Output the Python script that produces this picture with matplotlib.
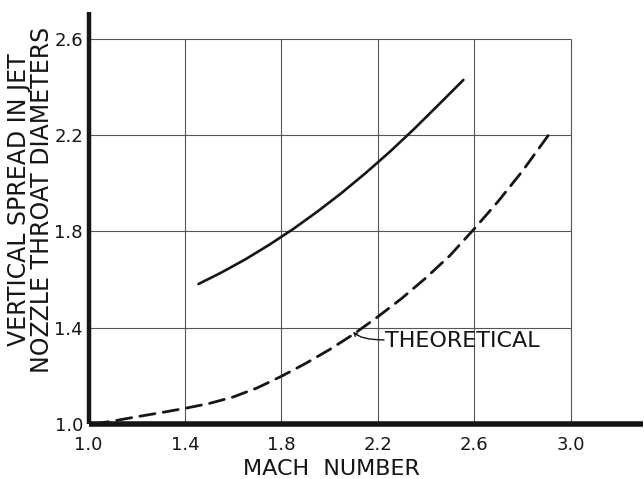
import matplotlib
matplotlib.use('Agg')
import matplotlib.pyplot as plt

mach_measured = [1.456, 1.55, 1.65, 1.75, 1.85, 1.95, 2.05, 2.15, 2.25, 2.35, 2.45, 2.555]
spread_measured = [1.581, 1.628, 1.683, 1.744, 1.810, 1.882, 1.959, 2.042, 2.130, 2.224, 2.323, 2.428]

# theoretical curve (dashed)
mach_theory = [1.02, 1.1, 1.2, 1.3, 1.4, 1.5, 1.6, 1.7, 1.8, 1.9, 2.0,
               2.1, 2.2, 2.3, 2.4, 2.5, 2.6, 2.7, 2.8, 2.908]
spread_theory = [1.0, 1.012, 1.03, 1.047, 1.065, 1.085, 1.112, 1.150, 1.198, 1.251, 1.309,
                 1.373, 1.445, 1.522, 1.607, 1.70, 1.81, 1.925, 2.05, 2.199]

x_ticks = [1.0, 1.4, 1.8, 2.2, 2.6, 3.0]
x_tick_labels = ['1.0', '1.4', '1.8', '2.2', '2.6', '3.0']
y_ticks = [1.0, 1.4, 1.8, 2.2, 2.6]
y_tick_labels = ['1.0', '1.4', '1.8', '2.2', '2.6']

ink = '#161616'
plt.rcParams['font.family'] = ['DejaVu Sans']

W, H = 644, 479
fig = plt.figure(figsize=(W / 100, H / 100), dpi=100)
ax = fig.add_axes([88.5 / W, (H - 424) / H, (643 - 88.5) / W, (424 - 12) / H])
ax.set_xlim(1.0, 3.30)
ax.set_ylim(1.0, 2.71)

# grid box only covers the labelled range
ax.vlines(x_ticks[1:], 1.0, 2.6, color='#555555', linewidth=0.8, zorder=1)
ax.hlines(y_ticks[1:], 1.0, 3.0, color='#555555', linewidth=0.8, zorder=1)

ax.plot(mach_measured, spread_measured, color=ink, linewidth=1.9,
        solid_capstyle='round', solid_joinstyle='round', zorder=3)
ax.plot(mach_theory, spread_theory, color=ink, linewidth=2.0,
        dashes=(5.5, 3.0), dash_capstyle='round', zorder=3)

# label with its little hooked leader
ax.text(2.228, 1.345, 'THEORETICAL', fontsize=16, va='center', ha='left', color=ink)
ax.annotate('', xy=(2.097, 1.383), xytext=(2.226, 1.349),
            arrowprops=dict(arrowstyle='->', color=ink, lw=1.0,
                            shrinkA=0, shrinkB=0, mutation_scale=6,
                            connectionstyle='angle3,angleA=0,angleB=-45'))

for side in ['top', 'right']:
    ax.spines[side].set_visible(False)
ax.spines['left'].set_linewidth(3.2)
ax.spines['bottom'].set_linewidth(4.0)
for side in ['left', 'bottom']:
    ax.spines[side].set_color(ink)
    ax.spines[side].set_capstyle('butt')

ax.set_xticks(x_ticks)
ax.set_xticklabels(x_tick_labels)
ax.set_yticks(y_ticks)
ax.set_yticklabels(y_tick_labels)
ax.tick_params(axis='both', length=0, labelsize=13, colors=ink)
ax.tick_params(axis='x', pad=9)
ax.tick_params(axis='y', pad=4)

ax.set_xlabel('MACH  NUMBER', fontsize=16, color=ink)
ax.xaxis.set_label_coords((331 - 88.5) / (643 - 88.5), -0.085)
ax.set_ylabel('VERTICAL SPREAD IN JET\nNOZZLE THROAT DIAMETERS', fontsize=17,
              color=ink, linespacing=0.95)
ax.yaxis.set_label_coords(-0.062, 0.545)

fig.savefig('out.png', dpi=100)
